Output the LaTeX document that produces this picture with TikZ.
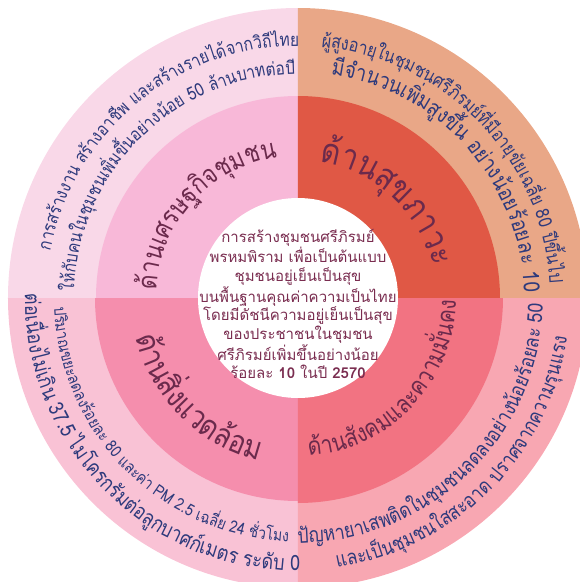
\documentclass[tikz,border=0pt]{standalone}
\usepackage{fontspec}
\newfontfamily\thaifont[Script=Thai]{Loma}
\newfontfamily\thaicond[Script=Thai,FakeStretch=0.85]{Loma}
\usetikzlibrary{decorations.text}
\definecolor{tlout}{HTML}{F9D8E8}
\definecolor{tlin}{HTML}{F8B8D8}
\definecolor{trout}{HTML}{E9A787}
\definecolor{trin}{HTML}{E05845}
\definecolor{blout}{HTML}{F9C2D5}
\definecolor{blin}{HTML}{F58EAD}
\definecolor{brout}{HTML}{F8A7B2}
\definecolor{brin}{HTML}{F27382}
\definecolor{navytxt}{HTML}{2E3A7C}
\definecolor{maroontxt}{HTML}{6B2A4C}
\definecolor{centertxt}{HTML}{7A2D50}
\newcommand{\tf}[1]{\thaicond\fontsize{#1}{#1}\selectfont}
\begin{document}
\begin{tikzpicture}[
  outertext/.style={decorate, decoration={text along path, text align=center, text color=navytxt}},
  innertext/.style={decorate, decoration={text along path, text align=center, text color=maroontxt}}
]
\useasboundingbox (-298pt,-284pt) rectangle (282pt,298pt);
\clip (-298pt,-284pt) rectangle (282pt,298pt);
% outer ring sectors
\fill[tlout] (0,0) -- (90:290pt) arc[start angle=90,end angle=180,radius=290pt] -- cycle;
\fill[trout] (0,0) -- (0:290pt) arc[start angle=0,end angle=90,radius=290pt] -- cycle;
\fill[blout] (0,0) -- (180:290pt) arc[start angle=180,end angle=270,radius=290pt] -- cycle;
\fill[brout] (0,0) -- (270:290pt) arc[start angle=270,end angle=360,radius=290pt] -- cycle;
% inner ring sectors
\fill[tlin] (0,0) -- (90:202pt) arc[start angle=90,end angle=180,radius=202pt] -- cycle;
\fill[trin] (0,0) -- (0:202pt) arc[start angle=0,end angle=90,radius=202pt] -- cycle;
\fill[blin] (0,0) -- (180:203pt) arc[start angle=180,end angle=270,radius=203pt] -- cycle;
\fill[brin] (0,0) -- (270:205pt) arc[start angle=270,end angle=360,radius=205pt] -- cycle;
% hub
\node[circle, fill=white, minimum size=200pt, inner sep=0pt] (hub) at (0,0) {};
\node[align=center, text=centertxt, font=\thaifont\fontsize{15}{18.5}\selectfont] (goal) at (0pt,-6pt)
 {การสร้างชุมชนศรีภิรมย์\\พรหมพิราม เพื่อเป็นต้นแบบ\\ชุมชนอยู่เย็นเป็นสุข\\บนพื้นฐานคุณค่าความเป็นไทย\\โดยมีดัชนีความอยู่เย็นเป็นสุข\\ของประชาชนในชุมชน\\ศรีภิรมย์เพิ่มขึ้นอย่างน้อย\\ร้อยละ \textbf{10} ในปี \textbf{2570}};
% inner labels
\path[innertext, decoration={text={|\tf{27}|{ด้}{า}{น}{เ}{ศ}{ร}{ษ}{ฐ}{กิ}{จ}{ชุ}{ม}{ช}{น}}}]
  (182.5:142pt) arc[start angle=182.5, end angle=92.5, radius=142pt];
\path[innertext, decoration={text={|\tf{35}|{ด้}{า}{น}{สุ}{ข}{ภ}{า}{ว}{ะ}}}]
  (92:138pt) arc[start angle=92, end angle=2, radius=138pt];
\path[innertext, decoration={text={|\tf{32}|{ด้}{า}{น}{สิ่}{ง}{แ}{ว}{ด}{ล้}{อ}{ม}}}]
  (180:167pt) arc[start angle=180, end angle=270, radius=167pt];
\path[innertext, decoration={text={|\tf{25}|{ด้}{า}{น}{สั}{ง}{ค}{ม}{แ}{ล}{ะ}{ค}{ว}{า}{ม}{มั่}{น}{ค}{ง}}}]
  (271.5:158pt) arc[start angle=271.5, end angle=361.5, radius=158pt];
% outer ring texts
\path[outertext, decoration={text={|\tf{18.3}|{การ}{สร้าง}{งาน} {สร้าง}{อา}{ชีพ} {และ}{สร้าง}{ราย}{ได้}{จาก}{วิ}{ถี}{ไทย}}}]
  (179.5:252pt) arc[start angle=179.5, end angle=79.5, radius=252pt];
\path[outertext, decoration={text={|\tf{18.2}|{ให้}{กับ}{คน}{ใน}{ชุม}{ชน}{เพิ่ม}{ขึ้น}{อย่าง}{น้อย} {50} {ล้าน}{บาท}{ต่อ}{ปี}}}]
  (184.5:224pt) arc[start angle=184.5, end angle=84.5, radius=224pt];
\path[outertext, decoration={text={|\tf{18.8}|{ผู้}{สูง}{อา}{ยุ}{ใน}{ชุม}{ชน}{ศรี}{ภิ}{รมย์}{ที่}{มี}{อา}{ยุ}{ขัย}{เฉลี่ย} {80} {ปี}{ขึ้น}{ไป}}}]
  (94:252pt) arc[start angle=94, end angle=-6, radius=252pt];
\path[outertext, decoration={text={|\tf{22.4}|{มี}{จำ}{นวน}{เพิ่ม}{สูง}{ขึ้น} {อย่าง}{น้อย}{ร้อย}{ละ} {10}}}]
  (91.5:226pt) arc[start angle=91.5, end angle=-8.5, radius=226pt];
\path[outertext, decoration={text={|\tf{16.5}|{ปริ}{มาณ}{ขยะ}{ลด}{ลง}{ร้อย}{ละ} {80} {และ}{ค่า} {PM} {2.5} {เฉลี่ย} {24} {ชั่ว}{โมง}}}]
  (175:244pt) arc[start angle=175, end angle=275, radius=244pt];
\path[outertext, decoration={text={|\tf{21.2}|{ต่อ}{เนื่อง}{ไม่}{เกิน} {37.5} {ไม}{โคร}{กรัม}{ต่อ}{ลูก}{บาศก์}{เมตร} {ระ}{ดับ} {0}}}]
  (174.75:273pt) arc[start angle=174.75, end angle=274.75, radius=273pt];
\path[outertext, decoration={text={|\tf{20.8}|{ปัญ}{หา}{ยา}{เสพ}{ติด}{ใน}{ชุม}{ชน}{ลด}{ลง}{อย่าง}{น้อย}{ร้อย}{ละ} {50}}}]
  (264.3:245pt) arc[start angle=264.3, end angle=364.3, radius=245pt];
\path[outertext, decoration={text={|\tf{20.5}|{และ}{เป็น}{ชุม}{ชน}{ใส}{สะ}{อาด} {ปราศ}{จาก}{ความ}{รุน}{แรง}}}]
  (265:272pt) arc[start angle=265, end angle=365, radius=272pt];
\end{tikzpicture}
\end{document}
